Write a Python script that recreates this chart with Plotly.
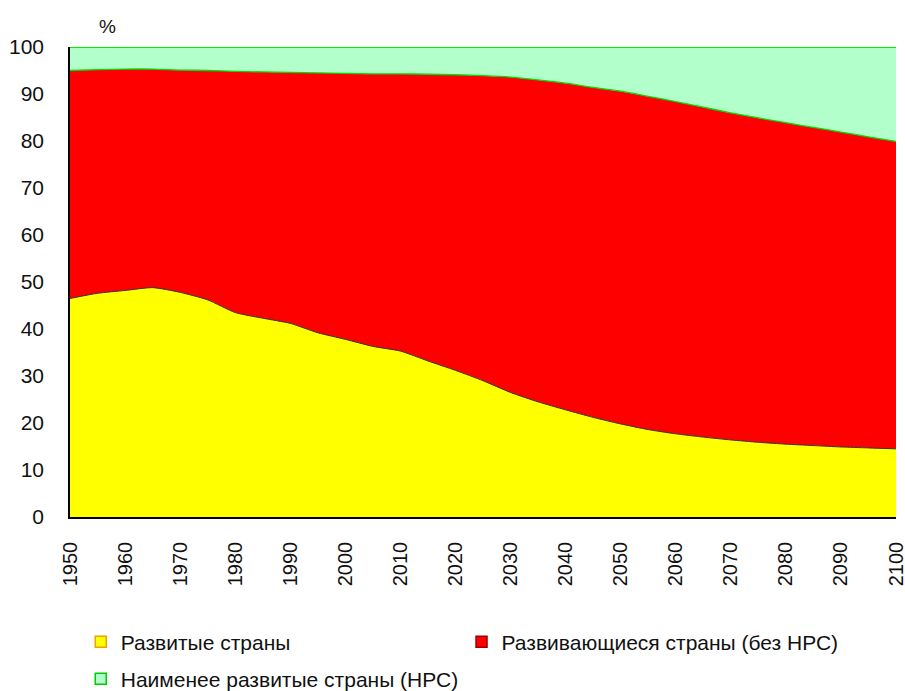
import plotly.graph_objects as go

years = list(range(1950, 2101, 5))

# share of developed countries, % (yellow)
developed = [46.5, 47.6, 48.2, 48.8, 47.8, 46.2, 43.5, 42.3, 41.2, 39.2, 37.8,
             36.3, 35.3, 33.2, 31.2, 29.0, 26.5, 24.5, 22.8, 21.2, 19.8, 18.6,
             17.7, 17.0, 16.4, 15.9, 15.5, 15.2, 14.9, 14.7, 14.5]

# cumulative top of developing (excluding LDC) band, %
top_developing = [95.0, 95.2, 95.3, 95.3, 95.1, 95.0, 94.8, 94.7, 94.6, 94.5, 94.4,
                  94.3, 94.3, 94.2, 94.1, 93.9, 93.6, 93.0, 92.3, 91.4, 90.6, 89.5,
                  88.4, 87.2, 86.0, 84.9, 83.9, 82.9, 81.9, 80.9, 79.9]

developing = [round(t - d, 2) for t, d in zip(top_developing, developed)]
ldc = [round(100 - t, 2) for t in top_developing]

names = ["Развитые страны", "Развивающиеся страны (без НРС)", "Наименее развитые страны (НРС)"]
fills = ["#FFFF00", "#FF0000", "#B3FFCC"]
edges = ["#333333", "#00DD00", "#00EE00"]
edge_widths = [1, 1.3, 2]
swatch_edges = ["#F0A000", "#A00000", "#00CC00"]

xticks = list(range(1950, 2101, 10))
yticks = list(range(0, 101, 10))

FONT = "Liberation Sans, Arial, sans-serif"

fig = go.Figure()
for name, vals, fc, ec, ew in zip(names, [developed, developing, ldc], fills, edges, edge_widths):
    fig.add_trace(go.Scatter(
        x=years, y=vals, name=name, mode="lines", stackgroup="one",
        line=dict(color=ec, width=ew, shape="spline", smoothing=0.6),
        fillcolor=fc, showlegend=False, hoverinfo="x+y+name"))

legend_ids = ["legend", "legend2", "legend3"]
for name, fc, sc, lid in zip(names, fills, swatch_edges, legend_ids):
    fig.add_trace(go.Scatter(
        x=[None], y=[None], name=name, mode="markers",
        marker=dict(symbol="square", size=11, color=fc, line=dict(color=sc, width=1.5)),
        legend=lid, showlegend=True))

leg_common = dict(orientation="h", bgcolor="rgba(0,0,0,0)", borderwidth=0,
                  font=dict(family=FONT, size=21, color="#111111"),
                  xanchor="left", yanchor="middle", itemwidth=30)

fig.update_layout(
    width=905, height=691,
    margin=dict(l=70, r=9, t=47, b=174, autoexpand=False),
    paper_bgcolor="white", plot_bgcolor="white",
    font=dict(family=FONT, size=21, color="#111111"),
    legend=dict(x=0.013, y=-0.266, **leg_common),
    legend2=dict(x=0.474, y=-0.266, **leg_common),
    legend3=dict(x=0.013, y=-0.345, **leg_common),
    xaxis=dict(range=[1950, 2100], tickvals=xticks, ticktext=[str(v) for v in xticks],
               tickangle=-90, showgrid=False, zeroline=False, showline=True,
               linecolor="black", linewidth=1.5, ticks="", ticklabelstandoff=15,
               ticklabeloverflow="allow",
               tickfont=dict(family=FONT, size=20, color="#111111")),
    yaxis=dict(range=[0, 100], tickvals=yticks, showgrid=False, zeroline=False,
               showline=True, linecolor="black", linewidth=1.5, ticks="",
               ticklabelstandoff=20,
               tickfont=dict(family=FONT, size=21, color="#111111")),
    annotations=[dict(text="%", xref="paper", yref="paper", x=0.045, y=1.043,
                      showarrow=False, xanchor="center", yanchor="middle",
                      font=dict(family=FONT, size=19, color="#111111"))],
)

fig.write_html("out.html", config={"displayModeBar": False},
               post_script="document.body.style.margin='0';document.body.style.padding='0';")
